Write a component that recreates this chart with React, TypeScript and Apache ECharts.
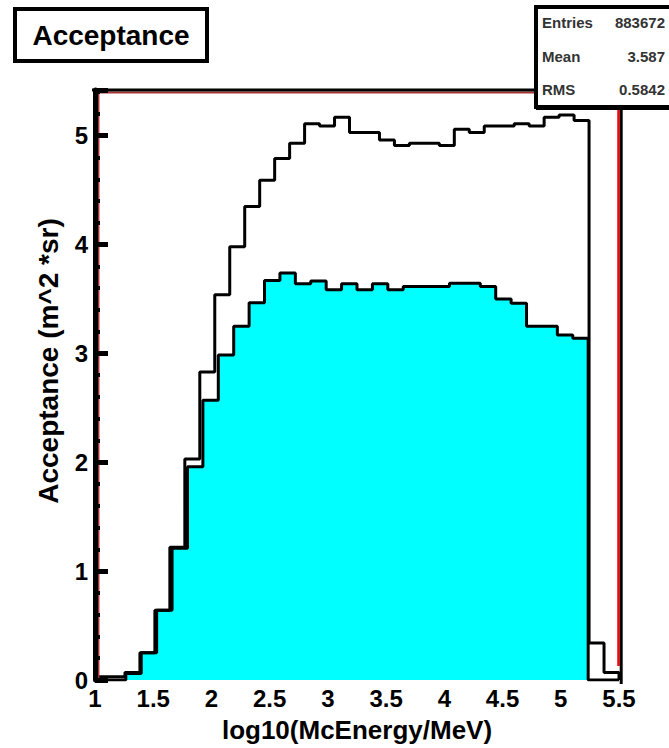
import React, { useEffect, useRef } from "react";
import * as echarts from "echarts";

const X_MIN = 1;
const X_MAX = 5.5;
const Y_MAX = 5.42;

// Acceptance of all events (open histogram), 35 bins over [1, 5.5]
const allAcceptance = [
  0.03, 0.03, 0.07, 0.25, 0.64, 1.22, 2.03, 2.83, 3.54, 3.98,
  4.35, 4.59, 4.79, 4.93, 5.11, 5.09, 5.17, 5.03, 5.03, 4.96,
  4.91, 4.93, 4.93, 4.91, 5.06, 5.03, 5.09, 5.09, 5.11, 5.09,
  5.17, 5.19, 5.14, 0.34, 0.07,
];

// Acceptance after selection (filled histogram), 34 bins over [1, 5.5]
const selectedAcceptance = [
  0, 0, 0.06, 0.25, 0.64, 1.21, 1.96, 2.57, 2.985, 3.25,
  3.465, 3.67, 3.74, 3.64, 3.665, 3.585, 3.64, 3.585, 3.64, 3.585,
  3.615, 3.615, 3.615, 3.645, 3.645, 3.615, 3.5, 3.46, 3.25, 3.25,
  3.17, 3.14, 0, 0,
];

const titleText = "Acceptance";
const xAxisTitle = "log10(McEnergy/MeV)";
const yAxisTitle = "Acceptance (m^2 *sr)";
const statsLabels = ["Entries", "Mean", "RMS"];
const statsValues = ["883672", "3.587", "0.5842"];

const FONT = "'Liberation Sans', Arial, Helvetica, sans-serif";

function stepPoints(values: number[]): number[][] {
  const n = values.length;
  const w = (X_MAX - X_MIN) / n;
  const pts: number[][] = [[X_MIN, 0]];
  values.forEach((v, i) => pts.push([X_MIN + i * w, v]));
  pts.push([X_MAX, values[n - 1]]);
  pts.push([X_MAX, 0]);
  return pts;
}

const W = 669;
const H = 748;
const G_LEFT = 95;
const G_RIGHT = 619;
const G_TOP = 90;
const G_BOTTOM = 683;

export default function App() {
  const ref = useRef<HTMLDivElement>(null);

  useEffect(() => {
    if (!ref.current) return;
    const chart = echarts.init(ref.current, undefined, { renderer: "svg" });

    const statsY = [22, 56, 89];
    const graphics: any[] = [
      // frame: red inner lines
      { type: "line", z: 10, shape: { x1: 98.2, y1: 92, x2: 98.2, y2: 680 }, style: { stroke: "#a83232", lineWidth: 2.5 } },
      { type: "line", z: 10, shape: { x1: 97, y1: 92.5, x2: 618, y2: 92.5 }, style: { stroke: "#a83232", lineWidth: 2 } },
      { type: "line", z: 10, shape: { x1: 618.5, y1: 92, x2: 618.5, y2: 666 }, style: { stroke: "#ff0000", lineWidth: 2.5 } },
      // frame: black outer lines
      { type: "line", z: 10, shape: { x1: 92, y1: 90, x2: 540, y2: 90 }, style: { stroke: "#000", lineWidth: 3 } },
      { type: "line", z: 10, shape: { x1: 621.2, y1: 92, x2: 621.2, y2: 684 }, style: { stroke: "#000", lineWidth: 3 } },
      // title box
      { type: "rect", z: 20, shape: { x: 15, y: 9, width: 192, height: 52 }, style: { fill: "#fff", stroke: "#000", lineWidth: 4 } },
      {
        type: "text", z: 21, x: 111, y: 35,
        style: { text: titleText, fill: "#000", font: `bold 28px ${FONT}`, align: "center", verticalAlign: "middle" },
      },
      // stats box
      { type: "rect", z: 20, shape: { x: 536, y: 7, width: 140, height: 100 }, style: { fill: "#fff", stroke: "#000", lineWidth: 4 } },
      { type: "rect", z: 20, shape: { x: 536, y: 105, width: 140, height: 5 }, style: { fill: "#000" } },
    ];
    statsLabels.forEach((lab, i) => {
      graphics.push({
        type: "text", z: 21, x: 542, y: statsY[i],
        style: { text: lab, fill: "#333", font: `bold 15px ${FONT}`, align: "left", verticalAlign: "middle" },
      });
      graphics.push({
        type: "text", z: 21, x: 665, y: statsY[i],
        style: { text: statsValues[i], fill: "#333", font: `bold 15px ${FONT}`, align: "right", verticalAlign: "middle" },
      });
    });

    chart.setOption({
      animation: false,
      backgroundColor: "#fff",
      grid: { left: G_LEFT, right: W - G_RIGHT, top: G_TOP, bottom: H - G_BOTTOM, containLabel: false },
      xAxis: [
        {
          type: "value",
          min: X_MIN,
          max: X_MAX,
          interval: 0.5,
          position: "bottom",
          axisLine: { show: false, onZero: false },
          axisTick: { show: false },
          splitLine: { show: false },
          axisLabel: { fontSize: 24, fontWeight: "bold", color: "#000", fontFamily: FONT, margin: 6 },
          name: xAxisTitle,
          nameLocation: "middle",
          nameGap: 37,
          nameTextStyle: { fontSize: 26, fontWeight: "bold", color: "#000", fontFamily: FONT },
        },
      ],
      yAxis: [
        {
          type: "value",
          min: 0,
          max: Y_MAX,
          interval: 1,
          position: "left",
          z: 11,
          axisLine: { show: true, onZero: false, lineStyle: { color: "#000", width: 5 } },
          axisTick: { show: true, inside: true, length: 13, lineStyle: { color: "#000", width: 5 } },
          splitLine: { show: false },
          axisLabel: {
            fontSize: 24, fontWeight: "bold", color: "#000", fontFamily: FONT, margin: 7,
            formatter: (v: number) => (Number.isInteger(v) ? String(v) : ""),
          },
          name: yAxisTitle,
          nameLocation: "middle",
          nameGap: 33,
          nameTextStyle: { fontSize: 28, fontWeight: "bold", color: "#000", fontFamily: FONT, padding: [0, 0, 0, 48] },
        },
        {
          type: "value",
          min: 0,
          max: Y_MAX,
          interval: 0.2,
          position: "left",
          z: 11,
          axisLine: { show: false, onZero: false },
          axisTick: { show: true, inside: true, length: 5, lineStyle: { color: "#000", width: 4 } },
          splitLine: { show: false },
          axisLabel: { show: false },
        },
      ],
      series: [
        {
          type: "line",
          step: "end",
          yAxisIndex: 0,
          data: stepPoints(selectedAcceptance),
          symbol: "none",
          showSymbol: false,
          lineStyle: { color: "#000", width: 3 },
          areaStyle: { color: "#00ffff", opacity: 1 },
          z: 2,
        },
        {
          type: "line",
          step: "end",
          yAxisIndex: 0,
          data: stepPoints(allAcceptance),
          symbol: "none",
          showSymbol: false,
          lineStyle: { color: "#000", width: 3 },
          z: 3,
        },
      ],
      graphic: graphics,
    });

    return () => chart.dispose();
  }, []);

  return (
    <div
      ref={ref}
      style={{ position: "absolute", left: 0, top: 0, width: W, height: H, background: "#fff" }}
    />
  );
}
